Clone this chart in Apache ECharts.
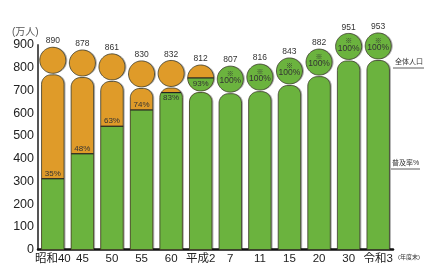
<!DOCTYPE html>
<html>
<head>
<meta charset="utf-8">
<script src="https://cdn.jsdelivr.net/npm/echarts@6/dist/echarts.min.js"></script>
<style>
  html, body { margin: 0; padding: 0; background: #fff; }
  #chart { width: 424px; height: 265px; }
</style>
</head>
<body>
<div id="chart"></div>
<script>
// 年度ごとの給水人口（万人）と普及率
const categories = ['昭和40', '45', '50', '55', '60', '平成2', '7', '11', '15', '20', '30', '令和3'];
const totals = [890, 878, 861, 830, 832, 812, 807, 816, 843, 882, 951, 953];
const rates = [35, 48, 63, 74, 83, 93, 100, 100, 100, 100, 100, 100];
const yTicks = [0, 100, 200, 300, 400, 500, 600, 700, 800, 900];

const ORANGE = '#df9b29';
const GREEN = '#6bb33e';
const EDGE = '#3a3a2a';
const FONT = '"Liberation Sans", "Noto Sans CJK JP", sans-serif';

const chart = echarts.init(document.getElementById('chart'));

// 水平線 y=yc より下の部分だけ残す
function clipBelow(pts, yc) {
    const out = [];
    const cuts = [];
    for (let i = 0; i < pts.length; i++) {
        const a = pts[i], b = pts[(i + 1) % pts.length];
        const ina = a[1] >= yc, inb = b[1] >= yc;
        if (ina) out.push(a);
        if (ina !== inb) {
            const t = (yc - a[1]) / (b[1] - a[1]);
            const p = [a[0] + t * (b[0] - a[0]), yc];
            out.push(p);
            cuts.push(p[0]);
        }
    }
    return { pts: out, cuts: cuts };
}

function circlePoly(cx, cy, r) {
    const pts = [];
    for (let k = 0; k < 64; k++) {
        const a = k / 64 * Math.PI * 2;
        pts.push([cx + r * Math.cos(a), cy + r * Math.sin(a)]);
    }
    return pts;
}

function barPoly(L, R, T, B, cr) {
    const pts = [[L, B], [L, T + cr]];
    for (let k = 1; k < 12; k++) {
        const a = Math.PI + k / 12 * Math.PI / 2;
        pts.push([L + cr + cr * Math.cos(a), T + cr + cr * Math.sin(a)]);
    }
    for (let k = 0; k <= 12; k++) {
        const a = 1.5 * Math.PI + k / 12 * Math.PI / 2;
        pts.push([R - cr + cr * Math.cos(a), T + cr + cr * Math.sin(a)]);
    }
    pts.push([R, B]);
    return pts;
}

function renderItem(params, api) {
    const i = api.value(0);
    const total = api.value(1);
    const rate = api.value(2);
    const base = api.coord([i, 0]);
    const top = api.coord([i, total]);
    const yG = api.coord([i, total * rate / 100])[1];
    const band = api.size([1, 0])[0];
    const bw = band * 0.76;
    const r = band * 0.44;
    const xc = base[0];
    const cy = top[1] + r;
    const barTop = cy + r + 1.5;

    const shapes = [
        barPoly(xc - bw / 2, xc + bw / 2, barTop, base[1], bw * 0.42),
        circlePoly(xc, cy, r)
    ];
    const children = [];

    shapes.forEach(function (pts) {
        children.push({
            type: 'polygon',
            shape: { points: pts },
            style: { fill: rate < 100 ? ORANGE : GREEN, stroke: null,
                     shadowColor: 'rgba(0,0,0,0.3)', shadowOffsetX: 1.5, shadowBlur: 0 }
        });
    });

    let cutLine = null;
    if (rate < 100) {
        shapes.forEach(function (pts) {
            const c = clipBelow(pts, yG);
            if (c.pts.length > 2) {
                children.push({ type: 'polygon', shape: { points: c.pts }, style: { fill: GREEN } });
            }
            if (c.cuts.length >= 2) {
                cutLine = [Math.min.apply(null, c.cuts), Math.max.apply(null, c.cuts)];
            }
        });
    }

    shapes.forEach(function (pts) {
        children.push({ type: 'polygon', shape: { points: pts },
                        style: { fill: null, stroke: EDGE, lineWidth: 0.8 } });
    });

    if (cutLine) {
        children.push({ type: 'line',
            shape: { x1: cutLine[0], y1: yG, x2: cutLine[1], y2: yG },
            style: { stroke: '#222', lineWidth: 1.2 } });
    }

    // 全体人口
    children.push({ type: 'text', style: {
        text: String(total), x: xc, y: top[1] - 2, align: 'center', verticalAlign: 'bottom',
        font: '8.5px ' + FONT, fill: '#333' } });

    // 普及率
    if (rate < 100) {
        const above = rate < 80;
        children.push({ type: 'text', style: {
            text: rate + '%', x: xc, y: above ? yG - 1 : yG + 1.5, align: 'center',
            verticalAlign: above ? 'bottom' : 'top', font: '8px ' + FONT, fill: '#333' } });
    } else {
        children.push({ type: 'text', style: {
            text: '※', x: xc, y: cy - 5, align: 'center', verticalAlign: 'middle',
            font: '7px ' + FONT, fill: '#333' } });
        children.push({ type: 'text', style: {
            text: '100%', x: xc, y: cy + 2, align: 'center', verticalAlign: 'middle',
            font: '8.5px ' + FONT, fill: '#333' } });
    }

    return { type: 'group', children: children };
}

const option = {
    animation: false,
    backgroundColor: '#fff',
    grid: { left: 38, right: 31, top: 45, bottom: 14 },
    xAxis: {
        type: 'category',
        data: categories,
        axisLine: { lineStyle: { color: '#111', width: 2.5 } },
        axisTick: { show: false },
        axisLabel: { color: '#222', fontSize: 11.5, fontFamily: FONT, margin: 4, interval: 0 }
    },
    yAxis: {
        type: 'value',
        min: yTicks[0],
        max: yTicks[yTicks.length - 1],
        interval: 100,
        axisLine: { show: true, lineStyle: { color: '#555', width: 2 } },
        axisTick: { show: false },
        splitLine: { show: false },
        axisLabel: { color: '#222', fontSize: 12.5, fontFamily: FONT, margin: 4 }
    },
    graphic: [
        { type: 'text', left: 12, top: 27, style: { text: '(万人)', font: '10px ' + FONT, fill: '#555' } },
        { type: 'text', left: 395, top: 59, style: { text: '全体人口', font: '7px ' + FONT, fill: '#333' } },
        { type: 'line', shape: { x1: 393, y1: 68, x2: 424, y2: 68 }, style: { stroke: '#333', lineWidth: 0.8 } },
        { type: 'text', left: 392, top: 160, style: { text: '普及率%', font: '7px ' + FONT, fill: '#333' } },
        { type: 'line', shape: { x1: 391, y1: 169, x2: 420, y2: 169 }, style: { stroke: '#333', lineWidth: 0.8 } },
        { type: 'text', left: 398, top: 254, style: { text: '(年度末)', font: '6px ' + FONT, fill: '#333' } }
    ],
    series: [{
        type: 'custom',
        renderItem: renderItem,
        clip: false,
        encode: { x: 0, y: 1 },
        data: categories.map(function (c, i) { return [i, totals[i], rates[i]]; })
    }]
};

chart.setOption(option);
</script>
</body>
</html>
